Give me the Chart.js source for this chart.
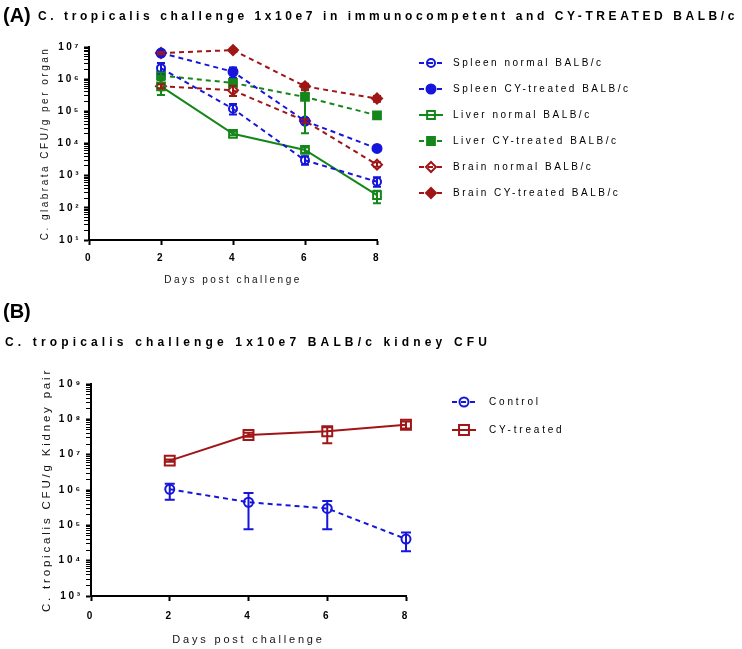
<!DOCTYPE html>
<html><head><meta charset="utf-8">
<script src="https://cdn.jsdelivr.net/npm/chart.js@4.4.1/dist/chart.umd.min.js"></script>
<style>
html,body{margin:0;padding:0;background:#fff;}
#wrap{position:relative;width:742px;height:649px;overflow:hidden;font-family:"Liberation Sans",Arial,sans-serif;}
canvas{position:absolute;left:0;}
.t{position:absolute;white-space:nowrap;color:#000;font-weight:bold;}
</style></head><body>
<div id="wrap">
<canvas id="cA" width="742" height="300" style="top:0"></canvas>
<canvas id="cB" width="742" height="349" style="top:300px"></canvas>
<div class="t" id="labA" style="left:3px;top:3px;font-size:20px;line-height:24px;">(A)</div>
<div class="t" id="titA" style="left:38px;top:9px;font-size:12px;line-height:14px;">C. tropicalis challenge 1x10e7 in immunocompetent and CY-TREATED BALB/c</div>
<div class="t" id="labB" style="left:3px;top:299px;font-size:20px;line-height:24px;">(B)</div>
<div class="t" id="titB" style="left:5px;top:335px;font-size:12px;line-height:14px;">C. tropicalis challenge 1x10e7 BALB/c kidney CFU</div>
</div>
<script>
// ---------- data ----------
const days = [2, 4, 6, 8];

// Panel A (CFU/g per organ)
const spleenNormal   = [2.2e6, 1.2e5, 3.0e3, 6.5e2];
const spleenNormalLo = [1.5e6, 8.0e4, 2.2e3, 4.5e2];
const spleenNormalHi = [3.2e6, 1.7e5, 4.0e3, 9.0e2];
const spleenCY   = [6.5e6, 1.7e6, 5.0e4, 7.0e3];
const spleenCYLo = [5.5e6, 1.1e6, 4.2e4, 6.2e3];
const spleenCYHi = [7.5e6, 2.3e6, 6.0e4, 8.0e3];
const liverNormal   = [6.0e5, 2.0e4, 6.3e3, 2.5e2];
const liverNormalLo = [3.2e5, 1.8e4, 5.2e3, 1.4e2];
const liverNormalHi = [9.5e5, 2.3e4, 7.5e3, 3.4e2];
const liverCY   = [1.3e6, 7.6e5, 2.8e5, 7.5e4];
const liverCYLo = [1.0e6, 6.0e5, 2.1e4, 6.6e4];
const liverCYHi = [1.6e6, 1.0e6, 4.7e5, 8.5e4];
const brainNormal   = [6.0e5, 4.5e5, 5.0e4, 2.2e3];
const brainNormalLo = [5.2e5, 3.0e5, 4.4e4, 1.9e3];
const brainNormalHi = [7.0e5, 6.2e5, 5.6e4, 2.6e3];
const brainCY   = [6.5e6, 8.0e6, 6.0e5, 2.5e5];
const brainCYLo = [6.0e6, 7.2e6, 4.5e5, 2.0e5];
const brainCYHi = [7.0e6, 8.8e6, 7.2e5, 3.0e5];

// Panel B (CFU/g kidney pair)
const control   = [1.05e6, 4.5e5, 3.0e5, 4.1e4];
const controlLo = [5.3e5, 7.8e4, 7.8e4, 1.86e4];
const controlHi = [1.5e6, 8.2e5, 4.9e5, 6.3e4];
const cyTreated   = [6.8e6, 3.6e7, 4.6e7, 7.0e7];
const cyTreatedLo = [6.3e6, 3.2e7, 2.1e7, 5.5e7];
const cyTreatedHi = [7.3e6, 4.2e7, 6.0e7, 8.7e7];

const labelsA = ['Spleen normal BALB/c','Spleen CY-treated BALB/c','Liver normal BALB/c','Liver CY-treated BALB/c','Brain normal BALB/c','Brain CY-treated BALB/c'];
const labelsB = ['Control','CY-treated'];
const xAxisTitle = 'Days post challenge';
const yTitleA = 'C. glabrata CFU/g per organ';
const yTitleB = 'C. tropicalis CFU/g Kidney pair';

// ---------- styling ----------
const BLUE = '#1515dc', GREEN = '#14861a', RED = '#a01616';
Chart.defaults.font.family = '"Liberation Sans", Arial, sans-serif';
Chart.defaults.color = '#000';

function mk(label, data, lo, hi, color, style, filled, dashed, r) {
  return {
    label, errLo: lo, errHi: hi,
    data: days.map((d, i) => ({x: d, y: data[i]})),
    borderColor: color, borderWidth: 2, borderDash: dashed ? [5, 4] : [],
    pointStyle: style, pointRadius: r, pointBorderWidth: 2,
    pointBorderColor: color, pointBackgroundColor: filled ? color : 'rgba(0,0,0,0)',
    backgroundColor: color, fill: false, tension: 0, clip: false
  };
}

const SUP = '⁰¹²³⁴⁵⁶⁷⁸⁹';
function decadeLabel(v) {
  const e = Math.log10(v);
  if (Math.abs(e - Math.round(e)) > 1e-6) return '';
  return '10' + String(Math.round(e)).split('').map(c => SUP[+c]).join('');
}
function decadeTicks(scale) {
  const lo = Math.round(Math.log10(scale.min)), hi = Math.round(Math.log10(scale.max));
  const arr = [];
  for (let e = lo; e < hi; e++) for (let m = 1; m < 10; m++) arr.push({value: m * Math.pow(10, e), major: m === 1});
  arr.push({value: Math.pow(10, hi), major: true});
  scale.ticks = arr;
}

const spacing = {
  id: 'spacing',
  beforeDraw(chart, args, opts) { chart.ctx.letterSpacing = opts.px + 'px'; }
};
const errorBars = {
  id: 'errorBars',
  afterDatasetsDraw(chart, args, opts) {
    const ctx = chart.ctx, ys = chart.scales.y;
    chart.data.datasets.forEach((ds, i) => {
      const meta = chart.getDatasetMeta(i);
      ctx.save();
      ctx.strokeStyle = ds.borderColor; ctx.lineWidth = 2; ctx.setLineDash([]);
      meta.data.forEach((pt, j) => {
        const yl = ys.getPixelForValue(ds.errLo[j]), yh = ys.getPixelForValue(ds.errHi[j]);
        const w = opts.cap;
        ctx.beginPath();
        ctx.moveTo(pt.x, yl); ctx.lineTo(pt.x, yh);
        ctx.moveTo(pt.x - w, yl); ctx.lineTo(pt.x + w, yl);
        ctx.moveTo(pt.x - w, yh); ctx.lineTo(pt.x + w, yh);
        ctx.stroke();
      });
      ctx.restore();
    });
  }
};
const sideLegend = {
  id: 'sideLegend',
  afterDraw(chart, args, o) {
    const ctx = chart.ctx;
    chart.data.datasets.forEach((ds, i) => {
      const y = o.y + i * o.gap, cx = o.cx;
      ctx.save();
      ctx.strokeStyle = ds.borderColor; ctx.lineWidth = 2;
      ctx.setLineDash(ds.borderDash.length ? [5, 4] : []);
      ctx.beginPath(); ctx.moveTo(cx - 12, y); ctx.lineTo(cx + 12, y); ctx.stroke();
      ctx.setLineDash([]);
      ctx.fillStyle = ds.pointBackgroundColor; ctx.strokeStyle = ds.pointBorderColor;
      ctx.lineWidth = 2;
      Chart.helpers.drawPoint(ctx, {pointStyle: ds.pointStyle, radius: ds.pointRadius, borderWidth: 2, rotation: 0}, cx, y);
      ctx.fillStyle = '#000';
      ctx.font = o.font + 'px "Liberation Sans", Arial, sans-serif';
      ctx.textBaseline = 'middle'; ctx.textAlign = 'left';
      ctx.fillText(ds.label, o.textX, y);
      ctx.restore();
    });
  }
};

function makeOptions(cfg) {
  return {
    responsive: false, animation: false,
    layout: {padding: {left: 0, top: cfg.top, right: cfg.right, bottom: 0}},
    plugins: {
      legend: {display: false}, tooltip: {enabled: false},
      errorBars: {cap: cfg.cap},
      spacing: {px: cfg.spacing},
      sideLegend: cfg.legend
    },
    scales: {
      x: {
        type: 'linear', min: 0, max: 8,
        ticks: {stepSize: 2, font: {size: 10, weight: 'bold'}, padding: cfg.xTickPad, color: '#000'},
        grid: {drawOnChartArea: false, tickLength: 5, tickWidth: 2, tickColor: '#000'},
        border: {display: true, color: '#000', width: 2},
        title: {display: true, text: xAxisTitle, font: {size: cfg.xTitleSize}, color: '#111', padding: {top: 0, bottom: cfg.xTitlePad}},
        afterFit(s) { s.height = cfg.xH; }
      },
      y: {
        type: 'logarithmic', min: cfg.ymin, max: cfg.ymax,
        afterBuildTicks: decadeTicks,
        ticks: {autoSkip: false, font: {size: 10, weight: 'bold'}, padding: 3, color: '#000',
                callback: (v) => decadeLabel(v)},
        grid: {drawOnChartArea: false, tickLength: 5, tickColor: '#000',
               tickWidth: (c) => (c.tick && c.tick.major) ? 2 : 1},
        border: {display: true, color: '#000', width: 2},
        title: {display: true, text: cfg.yTitle, font: {size: cfg.yTitleSize}, color: '#111', padding: {top: cfg.yTitlePad, bottom: 0}},
        afterFit(s) { s.width = cfg.yW; }
      }
    }
  };
}

new Chart(document.getElementById('cA'), {
  type: 'line',
  data: {datasets: [
    mk(labelsA[0], spleenNormal, spleenNormalLo, spleenNormalHi, BLUE, 'circle', false, true, 4),
    mk(labelsA[1], spleenCY, spleenCYLo, spleenCYHi, BLUE, 'circle', true, true, 4.5),
    mk(labelsA[2], liverNormal, liverNormalLo, liverNormalHi, GREEN, 'rect', false, false, 5.5),
    mk(labelsA[3], liverCY, liverCYLo, liverCYHi, GREEN, 'rect', true, true, 5.5),
    mk(labelsA[4], brainNormal, brainNormalLo, brainNormalHi, RED, 'rectRot', false, true, 5),
    mk(labelsA[5], brainCY, brainCYLo, brainCYHi, RED, 'rectRot', true, true, 5)
  ]},
  options: makeOptions({top: 47, right: 365, xH: 60, yW: 89, ymin: 10, ymax: 1e7, cap: 4,
    spacing: 2.5, xTickPad: 7, xTitleSize: 10, yTitleSize: 10, yTitlePad: 39,
    xTitlePad: 14, yTitle: yTitleA, legend: {cx: 431, y: 63, gap: 26, textX: 453, font: 10}}),
  plugins: [spacing, errorBars, sideLegend]
});

new Chart(document.getElementById('cB'), {
  type: 'line',
  data: {datasets: [
    mk(labelsB[0], control, controlLo, controlHi, BLUE, 'circle', false, true, 4.5),
    mk(labelsB[1], cyTreated, cyTreatedLo, cyTreatedHi, RED, 'rect', false, false, 7)
  ]},
  options: makeOptions({top: 84, right: 336, xH: 53, yW: 91, ymin: 1e3, ymax: 1e9, cap: 5,
    spacing: 2.8, xTickPad: 9, xTitleSize: 11, yTitleSize: 11.5, yTitlePad: 40,
    xTitlePad: 2, yTitle: yTitleB, legend: {cx: 464, y: 102, gap: 28, textX: 489, font: 10}}),
  plugins: [spacing, errorBars, sideLegend]
});

function fitText(id, target) {
  const el = document.getElementById(id);
  el.style.letterSpacing = '0px';
  const w = el.getBoundingClientRect().width;
  const n = el.textContent.length;
  el.style.letterSpacing = ((target - w) / n) + 'px';
}
fitText('titA', 700);
fitText('titB', 486);
</script>
</body></html>
